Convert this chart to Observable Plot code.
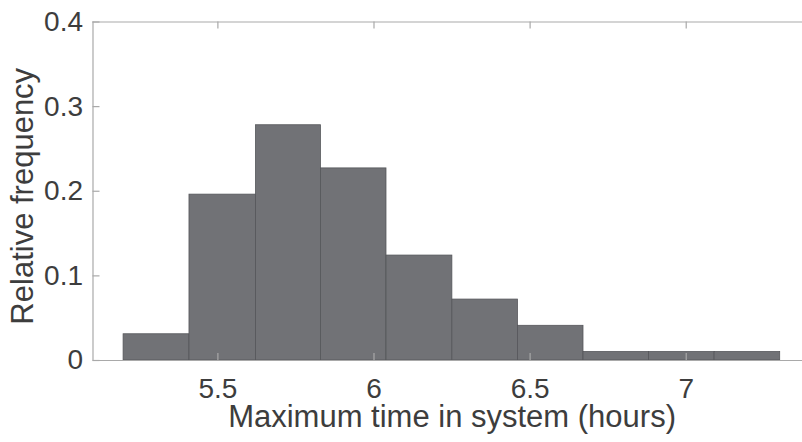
<!DOCTYPE html>
<html>
<head>
<meta charset="utf-8">
<script src="https://cdn.jsdelivr.net/npm/d3@7"></script>
<script src="https://cdn.jsdelivr.net/npm/@observablehq/plot@0.6"></script>
<style>
  html, body { margin: 0; padding: 0; background: #fff; overflow: hidden; }
  #chart svg { overflow: hidden; }
</style>
</head>
<body>
<div id="chart"></div>
<script>
// Histogram bin edges (hours) and relative frequencies
const binEdges = [5.198, 5.409, 5.622, 5.830, 6.040, 6.251, 6.461, 6.671, 6.881, 7.091, 7.301];
const relFreq = [0.031, 0.196, 0.278, 0.227, 0.124, 0.072, 0.041, 0.010, 0.010, 0.010];
const xTicks = [5.5, 6, 6.5, 7];
const yTicks = [0, 0.1, 0.2, 0.3, 0.4];
const xDomain = [5.1, 7.4];
const yDomain = [0, 0.4];
const xLabel = "Maximum time in system (hours)";
const yLabel = "Relative frequency";

const bins = relFreq.map((f, i) => ({x1: binEdges[i], x2: binEdges[i + 1], f}));

const W = 802, H = 442;
const mL = 92.5, mR = -8.6, mT = 21.5, mB = 82;
const frameW = W - mL - mR, frameH = H - mT - mB;
const tl = 7;
const axisColor = "#a9a9a9";
const textColor = "#3d3d3d";

const plot = Plot.plot({
  width: W,
  height: H,
  marginLeft: mL,
  marginRight: mR,
  marginTop: mT,
  marginBottom: mB,
  style: {fontFamily: "'Liberation Sans', Arial, sans-serif", fontSize: "28px", color: textColor, background: "#fff", overflow: "hidden"},
  x: {domain: xDomain, range: [mL, W - mR]},
  y: {domain: yDomain, range: [H - mB, mT]},
  marks: [
    Plot.rectY(bins, {x1: "x1", x2: "x2", y: "f", fill: "#717276", stroke: "#55565a", strokeWidth: 0.8}),
    // frame lines
    Plot.ruleY([yDomain[0], yDomain[1]], {y: d => d, x1: xDomain[0], x2: xDomain[1], stroke: axisColor, strokeWidth: 1.2}),
    Plot.ruleX([xDomain[0]], {x: d => d, y1: yDomain[0], y2: yDomain[1], stroke: axisColor, strokeWidth: 1.2}),
    // inward ticks
    Plot.tickX(xTicks, {x: d => d, insetTop: frameH - tl, stroke: axisColor, strokeWidth: 1.2}),
    Plot.tickX(xTicks, {x: d => d, insetBottom: frameH - tl, stroke: axisColor, strokeWidth: 1.2}),
    Plot.tickY(yTicks, {y: d => d, insetRight: frameW - tl, stroke: axisColor, strokeWidth: 1.2}),
    // tick labels
    Plot.axisX({ticks: xTicks, tickSize: 0, tickPadding: 18, tickFormat: d => String(d), label: null, fill: textColor, fontSize: 28, letterSpacing: "0.7px"}),
    Plot.axisY({ticks: yTicks, tickSize: 0, tickPadding: 10, tickFormat: d => String(d), label: null, fill: textColor, fontSize: 28, letterSpacing: "0.7px"}),
    // axis labels
    Plot.text([xLabel], {text: d => d, frameAnchor: "bottom", textAnchor: "middle", lineAnchor: "middle", dy: 57, fontSize: 31, fill: textColor, letterSpacing: "0.4px"}),
    Plot.text([yLabel], {text: d => d, frameAnchor: "left", textAnchor: "middle", lineAnchor: "middle", rotate: -90, dx: 23 - mL, dy: 5, fontSize: 31, fill: textColor, letterSpacing: "1.1px"})
  ]
});
document.getElementById("chart").appendChild(plot);
</script>
</body>
</html>
